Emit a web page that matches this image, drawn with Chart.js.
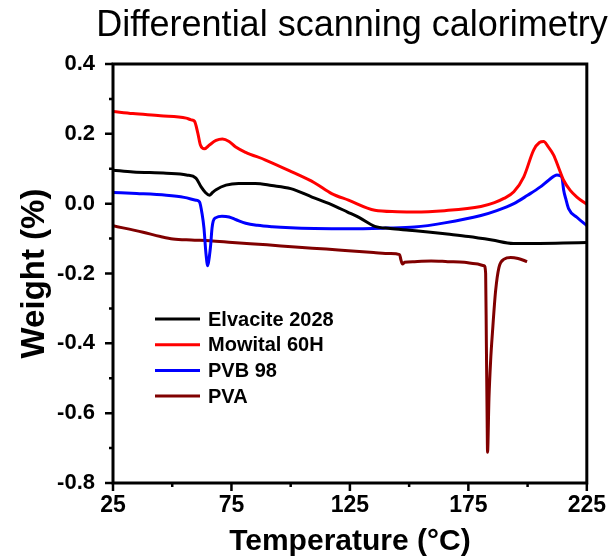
<!DOCTYPE html>
<html>
<head>
<meta charset="utf-8">
<script src="https://cdn.jsdelivr.net/npm/chart.js@4.4.0/dist/chart.umd.min.js"></script>
<style>
  html, body { margin: 0; padding: 0; background: #fff; }
  #wrap { width: 615px; height: 559px; }
</style>
</head>
<body>
<div id="wrap"><canvas id="dsc"></canvas></div>
<script>
// Elvacite 2028
const elvaciteT = [25, 33.5, 47.5, 56, 60, 62.2, 64, 65.7, 67, 68.5, 72.7, 78, 85, 92, 100, 109, 117, 124, 129, 135.5, 142, 150, 158, 166, 175, 185, 194, 205, 215, 225];
const elvaciteW = [0.096, 0.091, 0.087, 0.082, 0.073, 0.048, 0.032, 0.024, 0.032, 0.040, 0.053, 0.058, 0.058, 0.052, 0.043, 0.019, -0.002, -0.024, -0.040, -0.065, -0.071, -0.076, -0.081, -0.087, -0.094, -0.104, -0.114, -0.114, -0.113, -0.111];

// Mowital 60H
const mowitalT = [25, 33.4, 45, 55.9, 58, 59.4, 60.8, 61.9, 63.6, 65.7, 68.5, 71.2, 74, 76.8, 81, 89.4, 100.5, 110, 117.3, 124.4, 135.5, 145, 152.3, 165, 180.3, 186, 190, 194.2, 198.4, 202.6, 205, 206.8, 208.5, 211, 213, 215.2, 218, 220.8, 225];
const mowitalW = [0.264, 0.258, 0.252, 0.245, 0.240, 0.236, 0.202, 0.168, 0.157, 0.168, 0.181, 0.185, 0.178, 0.162, 0.147, 0.125, 0.091, 0.060, 0.029, 0.010, -0.019, -0.023, -0.024, -0.020, -0.008, 0.003, 0.015, 0.034, 0.077, 0.154, 0.175, 0.178, 0.165, 0.139, 0.105, 0.067, 0.038, 0.019, -0.002];

// PVB 98
const pvbT = [25, 35, 47.5, 55, 60, 61.5, 62.6, 63.4, 64.2, 65, 65.7, 66.2, 66.8, 67.3, 68.5, 71, 74, 77, 81, 86, 92.2, 100, 110, 124.4, 140, 152.3, 165, 180.3, 187, 194.2, 200, 205.4, 209, 212.4, 213.8, 214.6, 215.2, 216.2, 217.3, 220.8, 225];
const pvbW = [0.032, 0.029, 0.024, 0.018, 0.010, 0.005, -0.029, -0.070, -0.140, -0.178, -0.150, -0.120, -0.070, -0.050, -0.040, -0.036, -0.038, -0.046, -0.056, -0.062, -0.066, -0.069, -0.071, -0.072, -0.070, -0.067, -0.055, -0.034, -0.020, 0.000, 0.024, 0.048, 0.068, 0.082, 0.080, 0.072, 0.040, 0.012, -0.014, -0.039, -0.063];

// PVA
const pvaT = [25, 37.7, 45, 50.3, 58, 66, 75.4, 90, 103.4, 115, 124.4, 135, 142, 146, 146.5, 147.2, 148.1, 152.3, 159.3, 166.3, 173.3, 178, 181.7, 182.3, 182.6, 182.9, 183.1, 183.7, 184.4, 185.2, 186.5, 187.9, 190.1, 192.9, 196, 199.8];
const pvaW = [-0.063, -0.082, -0.094, -0.101, -0.104, -0.106, -0.111, -0.118, -0.125, -0.130, -0.135, -0.140, -0.143, -0.146, -0.160, -0.173, -0.168, -0.166, -0.164, -0.166, -0.168, -0.172, -0.178, -0.200, -0.400, -0.600, -0.712, -0.558, -0.450, -0.366, -0.250, -0.183, -0.159, -0.154, -0.157, -0.166];

const seriesNames = ["Elvacite 2028", "Mowital 60H", "PVB 98", "PVA"];
const seriesColors = ["#000000", "#ff0000", "#0000ff", "#800000"];
const xTicks = [25, 75, 125, 175, 225];
const yTicks = [-0.8, -0.6, -0.4, -0.2, 0.0, 0.2, 0.4];
const chartTitle = "Differential scanning calorimetry";

function pts(xs, ys) {
    return xs.map((t, i) => ({ x: t, y: ys[i] }));
}

Chart.defaults.font.family = "'Liberation Sans', Arial, sans-serif";
Chart.defaults.color = "#000";

// title, frame, outward ticks (major + minor) and the legend inside the plot
const frameAndLegend = {
    id: "frameAndLegend",
    afterDatasetsDraw(chart) {
        const { ctx, chartArea: a, scales: { x, y } } = chart;
        ctx.save();

        ctx.fillStyle = "#000";
        ctx.font = "36px 'Liberation Sans', Arial, sans-serif";
        ctx.textAlign = "center";
        ctx.textBaseline = "alphabetic";
        ctx.fillText(chartTitle, 352, 36);

        ctx.strokeStyle = "#000";
        ctx.lineWidth = 3;
        ctx.strokeRect(a.left, a.top, a.right - a.left, a.bottom - a.top);

        ctx.lineWidth = 2.5;
        ctx.beginPath();
        for (let i = 0; i < xTicks.length; i++) {
            const px = x.getPixelForValue(xTicks[i]);
            ctx.moveTo(px, a.bottom); ctx.lineTo(px, a.bottom + 8);
            if (i < xTicks.length - 1) {
                const mx = x.getPixelForValue((xTicks[i] + xTicks[i + 1]) / 2);
                ctx.moveTo(mx, a.bottom); ctx.lineTo(mx, a.bottom + 4);
            }
        }
        for (let i = 0; i < yTicks.length; i++) {
            const py = y.getPixelForValue(yTicks[i]);
            ctx.moveTo(a.left, py); ctx.lineTo(a.left - 8, py);
            if (i < yTicks.length - 1) {
                const my = y.getPixelForValue((yTicks[i] + yTicks[i + 1]) / 2);
                ctx.moveTo(a.left, my); ctx.lineTo(a.left - 4, my);
            }
        }
        ctx.stroke();

        // legend
        ctx.font = "bold 20px 'Liberation Sans', Arial, sans-serif";
        ctx.textBaseline = "middle";
        ctx.textAlign = "left";
        ctx.lineWidth = 3;
        chart.data.datasets.forEach((ds, i) => {
            const ly = 319 + i * 25.7;
            ctx.strokeStyle = ds.borderColor;
            ctx.beginPath();
            ctx.moveTo(155, ly); ctx.lineTo(200, ly);
            ctx.stroke();
            ctx.fillStyle = "#000";
            ctx.fillText(ds.label, 208, ly + 1);
        });
        ctx.restore();
    }
};

const sets = [
    pts(elvaciteT, elvaciteW),
    pts(mowitalT, mowitalW),
    pts(pvbT, pvbW),
    pts(pvaT, pvaW)
];

new Chart(document.getElementById("dsc"), {
    type: "line",
    data: {
        datasets: sets.map((d, i) => ({
            label: seriesNames[i],
            data: d,
            borderColor: seriesColors[i],
            backgroundColor: seriesColors[i],
            borderWidth: 3,
            pointRadius: 0,
            fill: false,
            cubicInterpolationMode: "monotone"
        }))
    },
    options: {
        responsive: true,
        maintainAspectRatio: false,
        animation: false,
        devicePixelRatio: 1,
        layout: { padding: { left: 0, right: 21, top: 64, bottom: 0 } },
        plugins: {
            legend: { display: false },
            tooltip: { enabled: false },
            title: { display: false }
        },
        scales: {
            x: {
                type: "linear",
                min: 25,
                max: 225,
                afterFit(scale) { scale.height = 76; },
                grid: { display: true, drawOnChartArea: false, drawTicks: false },
                border: { display: false },
                ticks: {
                    stepSize: 50,
                    padding: 9,
                    font: { size: 23, weight: "bold" },
                    maxRotation: 0
                },
                title: {
                    display: true,
                    text: "Temperature (\u00B0C)",
                    font: { size: 30, weight: "bold", lineHeight: 1 },
                    padding: { top: 0, bottom: 2 }
                }
            },
            y: {
                min: -0.8,
                max: 0.4,
                afterFit(scale) { scale.width = 113; },
                grid: { display: true, drawOnChartArea: false, drawTicks: false },
                border: { display: false },
                ticks: {
                    stepSize: 0.2,
                    padding: 18,
                    font: { size: 22, weight: "bold" },
                    callback: v => (Math.abs(v) < 1e-9 ? 0 : v).toFixed(1)
                },
                title: {
                    display: true,
                    text: "Weight (%)",
                    font: { size: 33, weight: "bold" },
                    padding: { top: 15, bottom: 0 }
                }
            }
        }
    },
    plugins: [frameAndLegend]
});
</script>
</body>
</html>
